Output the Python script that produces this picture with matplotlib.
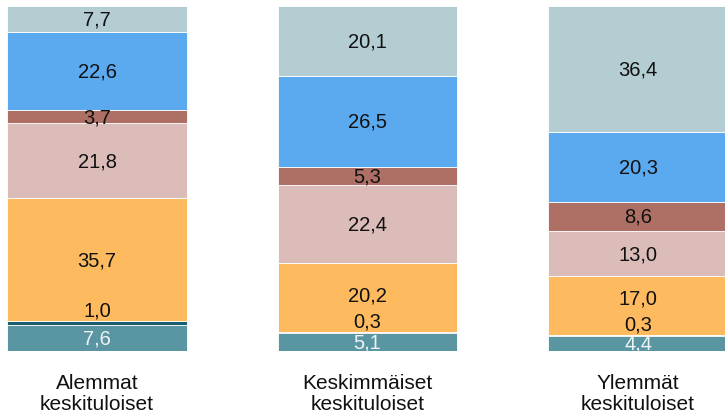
import matplotlib.pyplot as plt
import numpy as np

plt.rcParams['font.family'] = ['Liberation Sans', 'DejaVu Sans']

groups = ['Alemmat\nkeskituloiset', 'Keskimmäiset\nkeskituloiset', 'Ylemmät\nkeskituloiset']

# segments from bottom to top
teal = [7.6, 5.1, 4.4]
darkteal = [1.0, 0.3, 0.3]
orange = [35.7, 20.2, 17.0]
pink = [21.8, 22.4, 13.0]
brown = [3.7, 5.3, 8.6]
blue = [22.6, 26.5, 20.3]
lightgray = [7.7, 20.1, 36.4]

series = [teal, darkteal, orange, pink, brown, blue, lightgray]
colors = ['#5A96A2', '#1B5E70', '#FEBA5E', '#DBBCB8', '#AE7064', '#5BAAF0', '#B3CDD3']
textcolors = ['#EEF3F5', '#111111', '#111111', '#111111', '#111111', '#111111', '#111111']

fig = plt.figure(figsize=(7.25, 4.14), dpi=100)
ax = fig.add_axes([0, 0.1498, 1, 0.8333])

x = np.arange(len(groups))
width = 0.665
bottom = np.zeros(len(groups))
# y of last label drawn per bar, to keep labels apart
lastlab = np.full(len(groups), -100.0)

for vals, col, tcol in zip(series, colors, textcolors):
    vals = np.array(vals)
    ax.bar(x, vals, width, bottom=bottom, color=col, edgecolor='white', linewidth=0.6)
    for i, (xi, v, b) in enumerate(zip(x, vals, bottom)):
        label = f'{v:.1f}'.replace('.', ',')
        if v < 2:
            y = b + v + 3.2
        else:
            y = max(b + v / 2, lastlab[i] + 7.5)
        lastlab[i] = y
        ax.text(xi, y, label, ha='center', va='center', fontsize=14.5, color=tcol)
    bottom += vals

ax.set_xlim(-0.3586, 2.3216)
ax.set_ylim(0, 100)
ax.set_xticks(x)
ax.set_xticklabels(groups, fontsize=15, color='#111111', linespacing=1.15)
ax.tick_params(axis='x', length=0, pad=16)
ax.set_yticks([])
for s in ax.spines.values():
    s.set_visible(False)

plt.savefig('out.png', dpi=100)
